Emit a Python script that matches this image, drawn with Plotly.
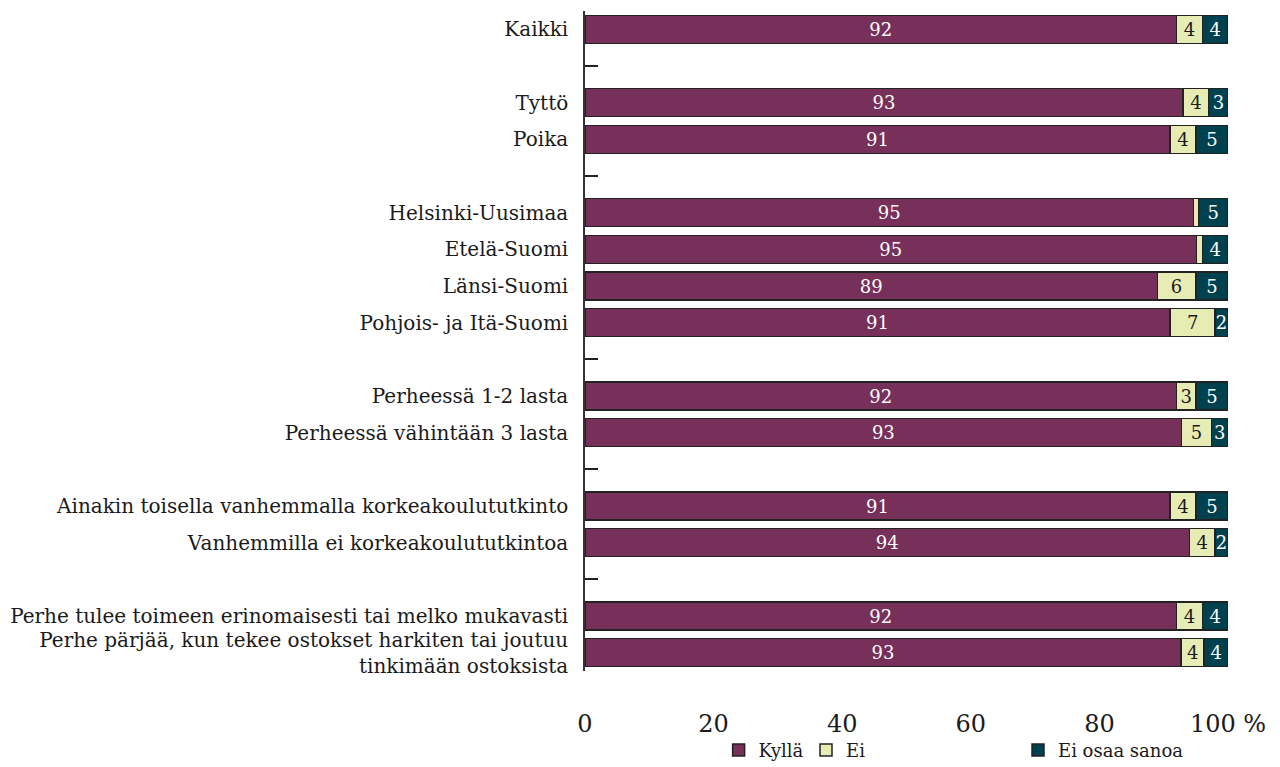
import plotly.graph_objects as go

# Rows from top to bottom; None marks a blank separator row
rows = [
    "Kaikki",
    None,
    "Tyttö",
    "Poika",
    None,
    "Helsinki-Uusimaa",
    "Etelä-Suomi",
    "Länsi-Suomi",
    "Pohjois- ja Itä-Suomi",
    None,
    "Perheessä 1-2 lasta",
    "Perheessä vähintään 3 lasta",
    None,
    "Ainakin toisella vanhemmalla korkeakoulututkinto",
    "Vanhemmilla ei korkeakoulututkintoa",
    None,
    "Perhe tulee toimeen erinomaisesti tai melko mukavasti",
    "Perhe pärjää, kun tekee ostokset harkiten tai joutuu<br>tinkimään ostoksista",
]

kylla = [92, 93, 91, 94.6, 95.1, 89, 91, 92, 92.8, 91, 94, 92, 92.7]
ei = [4, 4, 4, 0.8, 0.9, 6, 7, 3, 4.6, 4, 4, 4, 3.6]
eos = [4, 3, 5, 4.6, 4.0, 5, 2, 5, 2.6, 5, 2, 4, 3.7]

series_names = ["Kyllä", "Ei", "Ei osaa sanoa"]
x_tick_vals = [0, 20, 40, 60, 80, 100]
x_tick_text = ["0", "20", "40", "60", "80", "100 %"]

colors = ["#77305a", "#e6ecb4", "#00414f"]
text_colors = ["white", "#1a1a1a", "white"]
FONT = "DejaVu Serif"

positions = list(range(len(rows)))
bar_pos = [i for i, r in enumerate(rows) if r is not None]


def label(v):
    return str(int(v + 0.5)) if v >= 1.5 else ""


fig = go.Figure()
legends = ["legend", "legend2", "legend3"]
for name, vals, col, tcol, lg in zip(series_names, [kylla, ei, eos], colors, text_colors, legends):
    fig.add_trace(go.Bar(
        name=name,
        y=bar_pos,
        x=vals,
        orientation="h",
        marker=dict(color=col, line=dict(color="#222222", width=1.5)),
        text=[label(v) for v in vals],
        textposition="inside",
        insidetextanchor="middle",
        textfont=dict(color=tcol, size=18, family=FONT),
        hoverinfo="skip",
        legend=lg,
    ))

leg_common = dict(y=-0.12, xanchor="left", yanchor="middle", font=dict(size=18),
                  bgcolor="rgba(0,0,0,0)")
fig.update_layout(
    barmode="stack",
    bargap=0.24,
    width=1280,
    height=767,
    margin=dict(l=577, r=60, t=3, b=104, autoexpand=False),
    plot_bgcolor="white",
    paper_bgcolor="white",
    font=dict(family=FONT, size=20, color="#1a1a1a"),
    uniformtext=dict(minsize=18, mode="show"),
    showlegend=True,
    legend=dict(x=0.2078, **leg_common),
    legend2=dict(x=0.3437, **leg_common),
    legend3=dict(x=0.6734, **leg_common),
)

fig.update_xaxes(
    range=[0, 100],
    tickvals=x_tick_vals,
    ticktext=x_tick_text,
    showgrid=False,
    zeroline=False,
    showline=False,
    ticks="",
    tickfont=dict(size=24),
    ticklabelstandoff=36,
)

fig.update_yaxes(
    range=[len(rows) - 0.5, -0.5],
    tickvals=positions,
    ticktext=[r if r is not None else "" for r in rows],
    showgrid=False,
    zeroline=False,
    showline=True,
    linecolor="#333333",
    linewidth=1.5,
    ticks="inside",
    ticklen=13,
    tickwidth=1.5,
    tickcolor="#222222",
    layer="below traces",
    ticklabelstandoff=11,
    tickfont=dict(size=20),
)

fig.write_html("out.html")
